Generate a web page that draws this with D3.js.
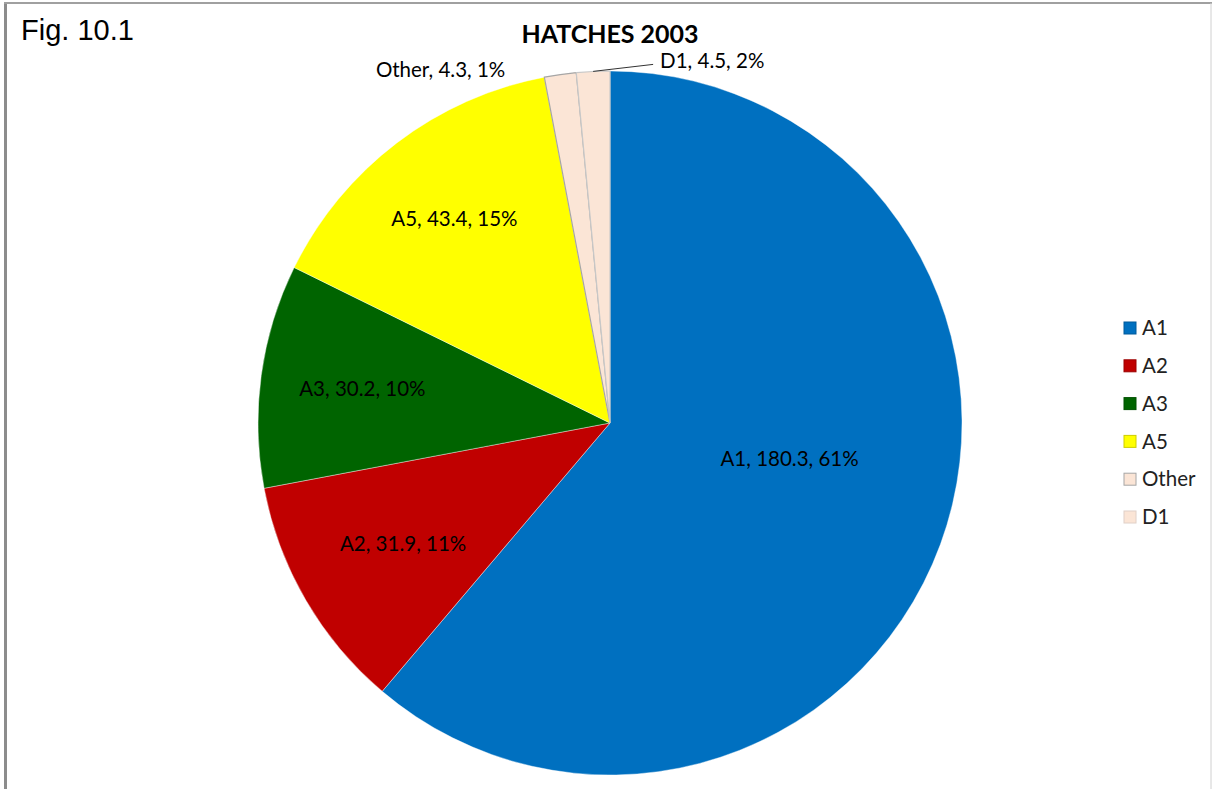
<!doctype html>
<html>
<head>
<meta charset="UTF-8">
<script src="https://cdnjs.cloudflare.com/ajax/libs/d3/7.8.5/d3.min.js"></script>
<style>
  body { margin: 0; background: #fff; }
  svg { display: block; }
</style>
</head>
<body>
<svg id="chart"></svg>
<script>
// chart data
const categories = ["A1", "A2", "A3", "A5", "Other", "D1"];
const values = [180.3, 31.9, 30.2, 43.4, 4.3, 4.5];
const percentLabels = ["61%", "11%", "10%", "15%", "1%", "2%"];
const colors = ["#0070C0", "#C00000", "#006400", "#FFFF00", "#FBE5D6", "#FBE5D6"];
const strokes = ["#ffffff", "#ffffff", "#ffffff", "#ffffff", "#a6a6a6", "#c8c8c8"];

(function(){
  const W = 1212, H = 789;
  const cx = 610, cy = 423, r = 352;
  const font = "Lato, 'Open Sans', sans-serif";

  const svg = d3.select("#chart").attr("width", W).attr("height", H);

  // frame
  svg.append("line").attr("x1", 5.5).attr("x2", 5.5).attr("y1", 2).attr("y2", H)
     .attr("stroke", "#8c8c8c").attr("stroke-width", 3);
  svg.append("line").attr("x1", 4).attr("x2", 1212).attr("y1", 3).attr("y2", 3)
     .attr("stroke", "#a0a0a0").attr("stroke-width", 2);
  svg.append("line").attr("x1", 1211).attr("x2", 1211).attr("y1", 3).attr("y2", H)
     .attr("stroke", "#d0d0d0").attr("stroke-width", 1);

  svg.append("text").attr("x", 21).attr("y", 40)
     .style("font-family", "'Liberation Sans', Arial, sans-serif").style("font-size", "29px")
     .text("Fig. 10.1");

  svg.append("text").attr("x", 610).attr("y", 43).attr("text-anchor", "middle")
     .style("font-family", font).style("font-size", "25px").style("font-weight", "bold")
     .text("HATCHES 2003");

  const data = categories.map((c, i) => ({ cat: c, value: values[i], pct: percentLabels[i], color: colors[i], stroke: strokes[i] }));

  const pie = d3.pie().sort(null).value(d => d.value);
  const arcs = pie(data);
  const arc = d3.arc().innerRadius(0).outerRadius(r);

  const g = svg.append("g").attr("transform", "translate(" + cx + "," + cy + ")");

  g.selectAll("path.slice")
    .data(arcs)
    .enter().append("path")
      .attr("class", "slice")
      .attr("d", arc)
      .attr("fill", d => d.data.color)
      .attr("stroke", d => d.data.stroke)
      .attr("stroke-width", d => d.data.stroke === "#ffffff" ? 0.4 : 1.2);

  // label placement (radius fraction, angle tweak in degrees); others go outside
  const place = { A1: [0.52, -9], A2: [0.68, 0], A3: [0.71, 0], A5: [0.73, 0] };
  const polar = (ang, rad) => [Math.sin(ang) * rad, -Math.cos(ang) * rad];

  arcs.forEach(d => {
    const mid = (d.startAngle + d.endAngle) / 2;
    const txt = d.data.cat + ", " + d.data.value + ", " + d.data.pct;
    const lab = g.append("text")
      .style("font-family", font).style("font-size", "20.5px").attr("fill", "#000")
      .attr("dy", "0.35em").text(txt);
    if (place[d.data.cat]) {
      const p = polar(mid + place[d.data.cat][1] * Math.PI / 180, r * place[d.data.cat][0]);
      lab.attr("x", p[0]).attr("y", p[1]).attr("text-anchor", "middle");
    } else if (d.data.cat === "Other") {
      const p = polar(mid, r);
      lab.attr("x", p[0] - 55).attr("y", p[1] - 5).attr("text-anchor", "end");
    } else {
      const p = polar(mid, r);
      g.append("line")
        .attr("x1", p[0]).attr("y1", p[1])
        .attr("x2", p[0] + 60).attr("y2", p[1] - 7)
        .attr("stroke", "#333").attr("stroke-width", 1);
      lab.attr("x", p[0] + 67).attr("y", p[1] - 11).attr("text-anchor", "start");
    }
  });

  // legend
  const ly = d3.scalePoint().domain(categories).range([328, 517]);
  const leg = svg.append("g").selectAll("g").data(data).enter().append("g")
    .attr("transform", d => "translate(1124," + ly(d.cat) + ")");
  leg.append("rect").attr("x", 0).attr("y", -6).attr("width", 12).attr("height", 12)
    .attr("fill", d => d.color)
    .attr("stroke", (d, i) => i < 4 ? d3.color(d.color).darker(0.6) : (d.cat === "Other" ? "#a6a6a6" : "#e0d0c8"))
    .attr("stroke-width", 1);
  leg.append("text").attr("x", 18).attr("y", 0).attr("dy", "0.35em")
    .style("font-family", font).style("font-size", "20.5px").attr("fill", "#222")
    .text(d => d.cat);
})();
</script>
</body>
</html>
